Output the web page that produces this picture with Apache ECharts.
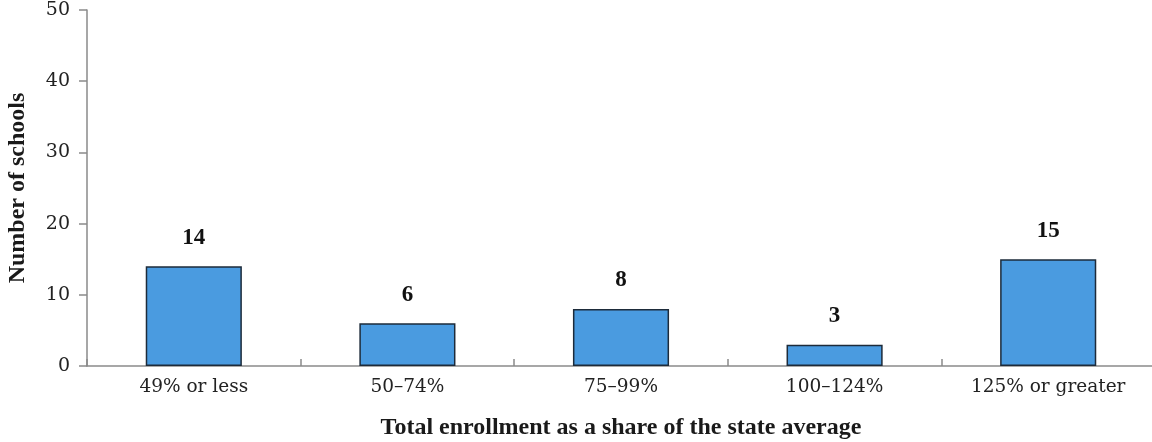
<!DOCTYPE html>
<html>
<head>
<meta charset="utf-8">
<script src="https://cdn.jsdelivr.net/npm/echarts@6/dist/echarts.min.js"></script>
<style>
  html, body { margin: 0; padding: 0; background: #ffffff; }
  #chart { width: 1152px; height: 442px; }
</style>
</head>
<body>
<div id="chart"></div>
<script>
// Enrollment bands relative to the state average
const categories = ['49% or less', '50\u201374%', '75\u201399%', '100\u2013124%', '125% or greater'];
// Number of schools in each band
const schoolCounts = [14, 6, 8, 3, 15];
const yTicks = { min: 0, max: 50, interval: 10 };

const regularFont = 'DejaVu Serif';
const boldFont = 'Liberation Serif';
const axisGray = '#8a8a8a';

const chart = echarts.init(document.getElementById('chart'));
chart.setOption({
  animation: false,
  grid: { left: 87, top: 10, width: 1068, height: 356, containLabel: false, outerBoundsMode: 'none' },
  xAxis: {
    type: 'category',
    data: categories,
    name: 'Total enrollment as a share of the state average',
    nameLocation: 'middle',
    nameGap: 50,
    nameTextStyle: { fontFamily: boldFont, fontWeight: 'bold', fontSize: 24, color: '#1a1a1a' },
    axisLine: { lineStyle: { color: axisGray, width: 1.5 } },
    axisTick: { show: true, inside: true, length: 7, alignWithLabel: false, lineStyle: { color: axisGray, width: 1.5 } },
    axisLabel: { fontFamily: regularFont, fontSize: 18.5, color: '#222', margin: 12 }
  },
  yAxis: {
    type: 'value',
    min: yTicks.min,
    max: yTicks.max,
    interval: yTicks.interval,
    name: 'Number of schools',
    nameLocation: 'middle',
    nameGap: 57,
    nameTextStyle: { fontFamily: boldFont, fontWeight: 'bold', fontSize: 24, color: '#1a1a1a' },
    axisLine: { show: true, lineStyle: { color: axisGray, width: 1.5 } },
    axisTick: { show: true, length: 8, lineStyle: { color: axisGray, width: 1.5 } },
    axisLabel: { fontFamily: regularFont, fontSize: 19, color: '#222', margin: 17 },
    splitLine: { show: false }
  },
  series: [{
    type: 'bar',
    data: schoolCounts,
    barWidth: '45%',
    itemStyle: { color: '#4a9be0', borderColor: '#1d2b3a', borderWidth: 1.5 },
    label: {
      show: true,
      position: 'top',
      distance: 17,
      fontFamily: boldFont,
      fontWeight: 'bold',
      fontSize: 23,
      color: '#111'
    }
  }]
});
</script>
</body>
</html>
